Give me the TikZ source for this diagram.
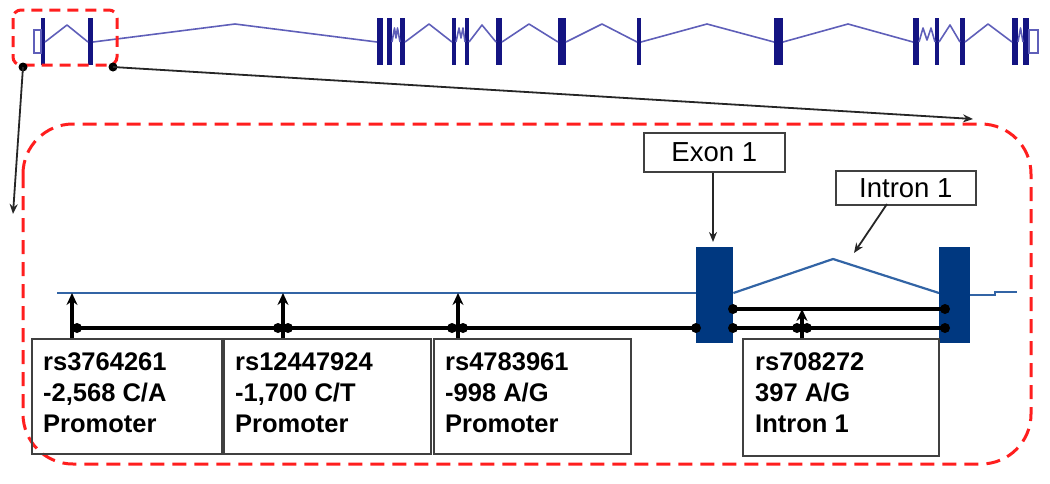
\documentclass[tikz,border=0pt]{standalone}
\usepackage{fontspec}
\setmainfont{Liberation Sans}
\usetikzlibrary{arrows.meta}
\definecolor{navy}{RGB}{20,20,130}
\definecolor{intronblue}{RGB}{95,95,185}
\definecolor{exonblue}{RGB}{0,56,128}
\definecolor{lineblue}{RGB}{50,100,165}
\definecolor{dashred}{RGB}{255,30,30}
\begin{document}
\begin{tikzpicture}[x=1pt,y=-1pt,
  topintron/.style={draw=intronblue,line width=1.6pt,line join=round},
  snpbox/.style={draw=black!75,line width=1.8pt,anchor=north west,inner sep=0pt},
  snptext/.style={anchor=base west,align=left,font=\fontsize{25.5}{31}\selectfont\bfseries,inner sep=0pt},
  lblbox/.style={draw=black!75,line width=1.6pt,fill=white,font=\fontsize{27.5}{30}\selectfont,inner sep=0pt,anchor=north west},
  bigexon/.style={fill=exonblue,draw=none,anchor=north west,inner sep=0pt,minimum width=37pt,minimum height=96pt},
  blk/.style={line width=4.8pt,black},
  bdot/.style={circle,fill=black,inner sep=0pt,minimum size=9pt},
  arr/.style={-{Stealth[length=12pt,width=11pt]},line width=3.6pt},
  zoomarr/.style={-{Stealth[length=10pt,width=8pt]},line width=1.8pt,black!85},
  redbox/.style={draw=dashred,line width=3pt,dash pattern=on 14pt off 8pt},
]
\useasboundingbox (0,0) rectangle (1050,483);

% ---------- top gene track ----------
\foreach \l/\r in {41/45,88/93,377/383,387/392,400/405,452/456,465/469,496/502,558/566,637/641,774/783,913/919,935/939,960/965,1012/1018,1023/1029}
  \fill[navy] (\l,18) rectangle (\r,65);
\draw[draw=intronblue,line width=1.2pt] (34,30) rectangle (41,53);
\draw[draw=intronblue,line width=1.2pt] (1029,30) rectangle (1038,53);
\draw[topintron] (45,42) -- (67,25) -- (88,42);
\draw[topintron] (93,42) -- (235,24) -- (377,42);
\draw[topintron] (392,42) -- (394.5,28) -- (396,38) -- (397.5,28) -- (400,42);
\draw[topintron] (405,42) -- (429,24) -- (452,42);
\draw[topintron] (456,42) -- (459,28) -- (461,38) -- (463,28) -- (465,42);
\draw[topintron] (469,42) -- (482,25) -- (496,42);
\draw[topintron] (502,42) -- (529,24) -- (558,42);
\draw[topintron] (566,42) -- (602,24) -- (637,42);
\draw[topintron] (641,42) -- (707,24) -- (774,42);
\draw[topintron] (783,42) -- (848,24) -- (913,42);
\draw[topintron] (919,42) -- (923,28) -- (927,40) -- (931,28) -- (935,42);
\draw[topintron] (939,42) -- (950,25) -- (960,42);
\draw[topintron] (965,42) -- (988,24) -- (1012,42);
\draw[topintron] (1018,42) -- (1020.5,28) -- (1023,42);

% small zoom box
\draw[redbox,dash pattern=on 11pt off 7pt,rounded corners=8pt] (13,10) rectangle (117,65);
\node[bdot] (zl) at (23,67) {};
\node[bdot] (zr) at (113,67) {};
\coordinate (zlend) at (13,214);
\coordinate (zrend) at (973,119);
\draw[zoomarr] (zl.center) -- (zlend);
\draw[zoomarr] (zr.center) -- (zrend);

% big zoom box
\draw[redbox,rounded corners=50pt] (23,124) rectangle (1031,464);

% ---------- enlarged view ----------
\node[bigexon] (ex1) at (696,247) {};
\node[bigexon,minimum width=31pt] (ex2) at (939,247) {};

\draw[lineblue,line width=2.2pt] (57,293) -- (ex1.west |- 0,293);
\draw[lineblue,line width=2.2pt,line join=round] (ex1.east |- 0,293) -- (833,259) -- (ex2.west |- 0,293);
\draw[lineblue,line width=2.2pt] (ex2.east |- 0,295) -- (995,295) -- (995,292) -- (1017,292);

% label boxes
\node[lblbox,minimum width=141pt,minimum height=39pt] (exlbl) at (643,132) {Exon 1};
\node[lblbox,minimum width=140pt,minimum height=34pt] (inlbl) at (835,170) {Intron 1};
\coordinate (exlbltip) at (713,242);
\coordinate (inlblfoot) at (887,204);
\coordinate (inlbltip) at (854,253);
\draw[zoomarr] (exlbl.south -| exlbltip) -- (exlbltip);
\draw[zoomarr] (inlblfoot) -- (inlbltip);

% SNP boxes
\node[snpbox,minimum width=190pt,minimum height=115pt] (b1) at (31,338) {};
\node[snpbox,minimum width=207pt,minimum height=115pt] (b2) at (223,338) {};
\node[snpbox,minimum width=197pt,minimum height=115pt] (b3) at (433,338) {};
\node[snpbox,minimum width=196pt,minimum height=117pt] (b4) at (742,338) {};
\node[snptext] (t1) at (43,432) {rs3764261\\-2,568 C/A\\Promoter};
\node[snptext] (t2) at (235,432) {rs12447924\\-1,700 C/T\\Promoter};
\node[snptext] (t3) at (445,432) {rs4783961\\-998 A/G\\Promoter};
\node[snptext] (t4) at (755,432) {rs708272\\397 A/G\\Intron 1};

% black lines
\draw[blk] (72,328) -- (ex1.west |- 0,328);
\draw[blk] (ex1.east |- 0,309) -- (945,309);
\draw[blk] (ex1.east |- 0,328) -- (945,328);
\foreach \p in {(696,328),(733,309),(733,328),(945,309),(945,328),(77,328),(278,328),(288,328),(452,328),(463,328),(797,328),(807,328),(802,328)}
  \fill \p circle (5pt);

% SNP arrows
\coordinate (s1) at (72,293);
\coordinate (s2) at (283,293);
\coordinate (s3) at (458,293);
\coordinate (s4) at (802,309);
\draw[arr] (b1.north -| s1) -- (s1);
\draw[arr] (b2.north -| s2) -- (s2);
\draw[arr] (b3.north -| s3) -- (s3);
\draw[arr] (b4.north -| s4) -- (s4);
\end{tikzpicture}
\end{document}
